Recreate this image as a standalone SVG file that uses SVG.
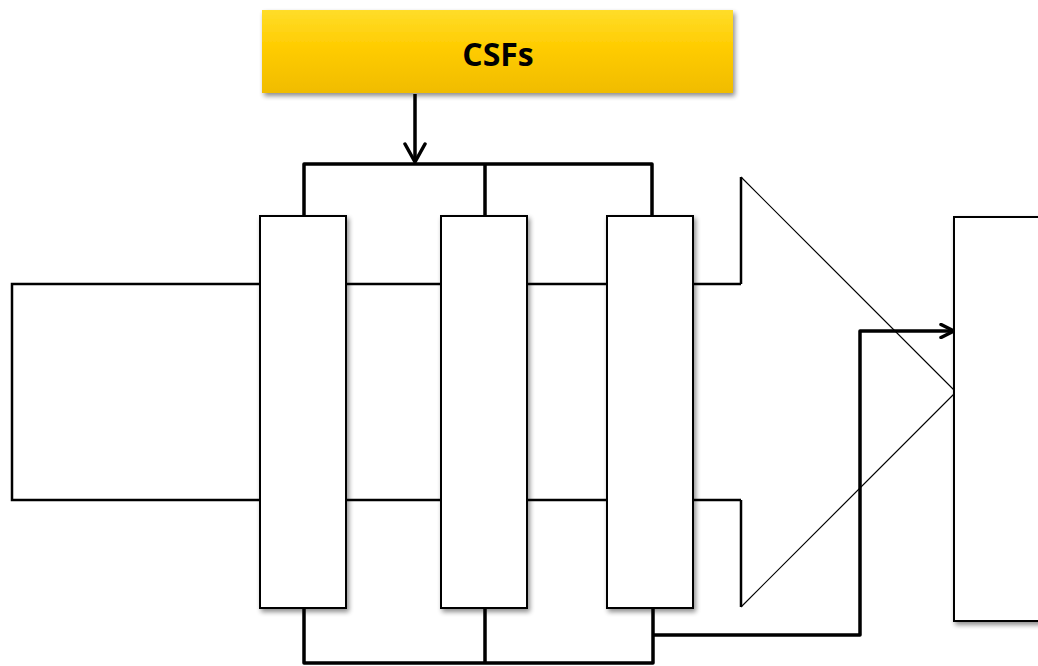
<svg xmlns="http://www.w3.org/2000/svg" width="1038" height="666" viewBox="0 0 1038 666">
<defs>
<linearGradient id="gold" x1="0" y1="0" x2="0" y2="1">
<stop offset="0" stop-color="#FFDD2A"/>
<stop offset="0.45" stop-color="#FFCC00"/>
<stop offset="1" stop-color="#F0BC00"/>
</linearGradient>
<filter id="sh" x="-20%" y="-20%" width="150%" height="150%">
<feGaussianBlur in="SourceAlpha" stdDeviation="2.5"/>
<feOffset dx="2" dy="3" result="b"/>
<feComponentTransfer><feFuncA type="linear" slope="0.45"/></feComponentTransfer>
<feMerge><feMergeNode/><feMergeNode in="SourceGraphic"/></feMerge>
</filter>
<marker id="ah" viewBox="0 0 22 24" refX="20" refY="12" markerWidth="22" markerHeight="24" markerUnits="userSpaceOnUse" orient="auto">
<path d="M2,2 L20,12 L2,22" fill="none" stroke="#000" stroke-width="3.5" stroke-linecap="round" stroke-linejoin="round"/>
</marker>
<marker id="ah2" viewBox="0 0 16 16" refX="15" refY="8" markerWidth="16" markerHeight="16" markerUnits="userSpaceOnUse" orient="auto">
<path d="M2,1.5 L15,8 L2,14.5" fill="none" stroke="#000" stroke-width="3.5" stroke-linecap="round" stroke-linejoin="round"/>
</marker>
</defs>
<style>
.box{fill:#fff;stroke:#000;stroke-width:2}
.con{fill:none;stroke:#000;stroke-width:3.5;stroke-linejoin:round}
.lbl{font-family:"Open Sans","Liberation Sans",sans-serif;font-weight:bold;font-size:32px;fill:#000}
</style>
<rect width="1038" height="666" fill="#fff"/>

<g id="bigArrow">
<polygon points="12,284 741,284 741,177 956,392 741,607 741,500 12,500" fill="#fff" stroke="none"/>
<path d="M741,284 H12 V500 H741" fill="none" stroke="#000" stroke-width="2.5"/>
<path d="M741,284 V177 M741,500 V607" fill="none" stroke="#000" stroke-width="2.5"/>
<path d="M741,177 L956,392 L741,607" fill="none" stroke="#000" stroke-width="1.2"/>
</g>

<g id="target">
<rect x="954" y="217" width="100" height="404" class="box" filter="url(#sh)"/>
</g>

<g id="csfs">
<rect x="262" y="10" width="471" height="83" fill="url(#gold)" filter="url(#sh)"/>
<text x="498" y="66" text-anchor="middle" class="lbl">CSFs</text>
</g>

<g id="connectors">
<path d="M415,94 V162" class="con" marker-end="url(#ah)"/>
<path d="M304,216 V164 H652 V216 M485,164 V216" class="con"/>
<path d="M304,608 V663 H653 V608 M485,608 V663" class="con"/>
<path d="M653,635 H860 V331 H954" class="con" marker-end="url(#ah2)"/>
</g>

<g id="stage1">
<rect x="260" y="216" width="86" height="392" class="box" filter="url(#sh)"/>
</g>
<g id="stage2">
<rect x="441" y="216" width="86" height="392" class="box" filter="url(#sh)"/>
</g>
<g id="stage3">
<rect x="607" y="216" width="86" height="392" class="box" filter="url(#sh)"/>
</g>
</svg>
